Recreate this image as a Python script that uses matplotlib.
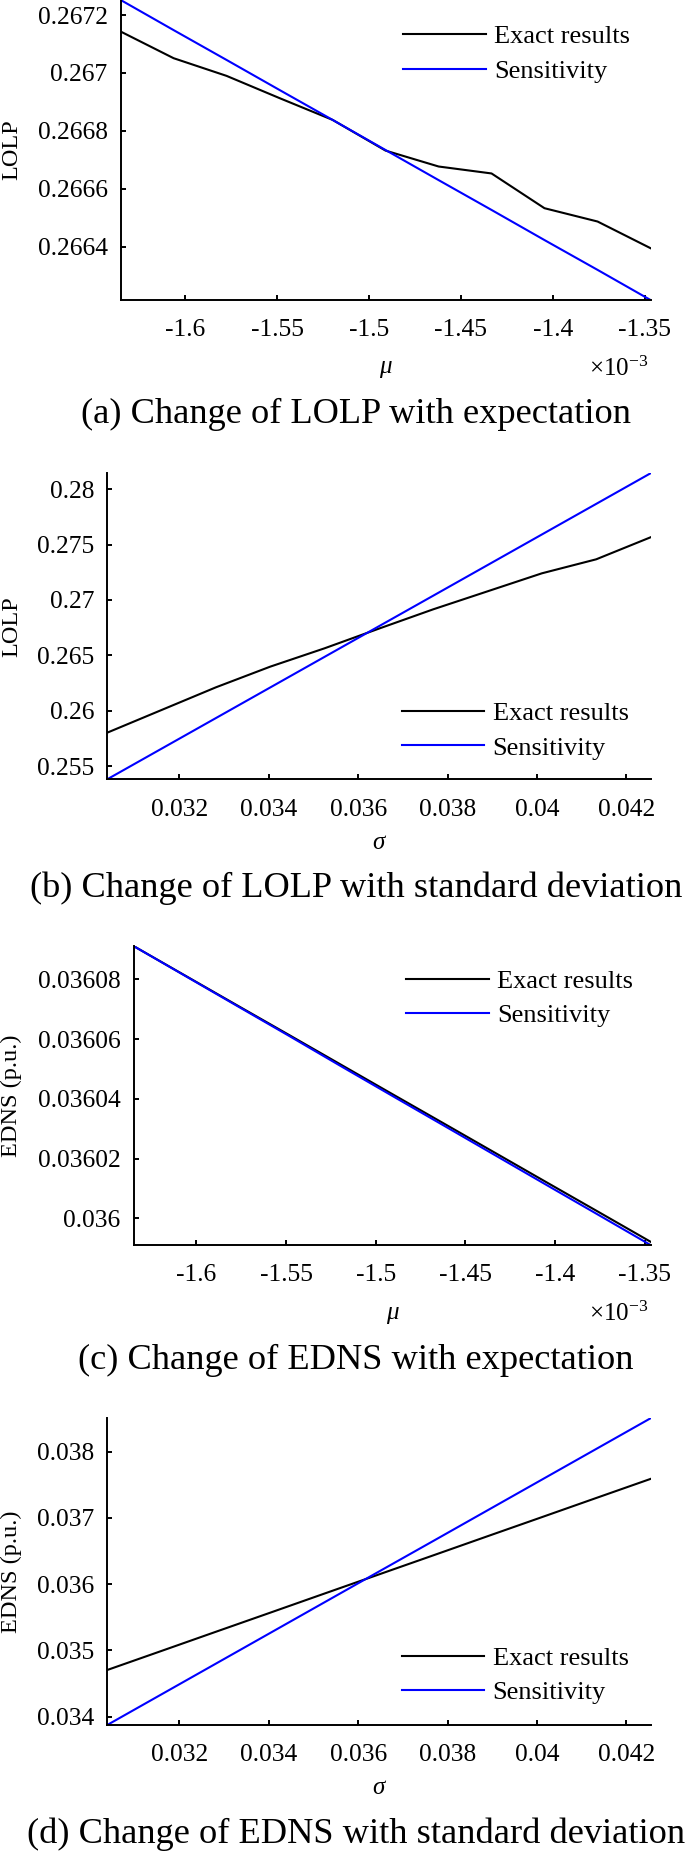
import matplotlib
matplotlib.use("Agg")
import matplotlib.pyplot as plt

plt.rcParams['font.family'] = 'Liberation Serif'
plt.rcParams['mathtext.fontset'] = 'custom'
plt.rcParams['mathtext.rm'] = 'Liberation Serif'
plt.rcParams['mathtext.it'] = 'Liberation Serif:italic'
plt.rcParams['axes.unicode_minus'] = False

# expectation mu (x 10^-3) and standard deviation sigma
mu_e3 = [-1.6351, -1.6063, -1.5775, -1.5486, -1.5198, -1.4910,
         -1.4621, -1.4333, -1.4045, -1.3756, -1.3468]
sigma = [0.030387, 0.031602, 0.032817, 0.034032, 0.035247, 0.036462,
         0.037678, 0.038893, 0.040108, 0.041323, 0.042538]

# (a) LOLP vs mu
lolp_exact_mu = [0.267143, 0.267051, 0.266990, 0.266913, 0.266838, 0.266732,
                 0.266677, 0.266653, 0.266533, 0.266487, 0.266395]
lolp_sens_mu = [0.267252, 0.267148, 0.267045, 0.266941, 0.266838, 0.266734,
                0.266630, 0.266527, 0.266423, 0.266320, 0.266216]

# (b) LOLP vs sigma
lolp_exact_sigma = [0.258012, 0.260060, 0.262108, 0.263976, 0.265633, 0.267410,
                    0.269157, 0.270783, 0.272410, 0.273675, 0.275663]
lolp_sens_sigma = [0.253800, 0.256565, 0.259329, 0.262094, 0.264859, 0.267624,
                   0.270388, 0.273153, 0.275918, 0.278682, 0.281447]

# (c) EDNS vs mu
edns_exact_mu = [0.0360912, 0.0360813, 0.0360714, 0.0360615, 0.0360516, 0.0360417,
                 0.0360318, 0.0360219, 0.0360120, 0.0360021, 0.0359922]
edns_sens_mu = [0.0360912, 0.0360812, 0.0360712, 0.0360612, 0.0360511, 0.0360411,
                0.0360311, 0.0360211, 0.0360111, 0.0360011, 0.0359911]

# (d) EDNS vs sigma
edns_exact_sigma = [0.034704, 0.034992, 0.035281, 0.035569, 0.035858, 0.036146,
                    0.036434, 0.036723, 0.037011, 0.037300, 0.037588]
edns_sens_sigma = [0.033874, 0.034337, 0.034800, 0.035263, 0.035726, 0.036189,
                   0.036651, 0.037114, 0.037577, 0.038040, 0.038503]

mu_ticks = [-1.6, -1.55, -1.5, -1.45, -1.4, -1.35]
sigma_ticks = [0.032, 0.034, 0.036, 0.038, 0.04, 0.042]
lolp_mu_ticks = [0.2664, 0.2666, 0.2668, 0.267, 0.2672]
lolp_sigma_ticks = [0.255, 0.26, 0.265, 0.27, 0.275, 0.28]
edns_mu_ticks = [0.036, 0.03602, 0.03604, 0.03606, 0.03608]
edns_sigma_ticks = [0.034, 0.035, 0.036, 0.037, 0.038]

titles = ['(a) Change of LOLP with expectation',
          '(b) Change of LOLP with standard deviation',
          '(c) Change of EDNS with expectation',
          '(d) Change of EDNS with standard deviation']

W, H = 685.0, 1851.0
fig = plt.figure(figsize=(W / 100, H / 100), dpi=100)


def make_axes(left, right, top, bottom):
    return fig.add_axes([left / W, 1 - bottom / H, (right - left) / W, (bottom - top) / H])


def panel(ax, x, exact, sens, xticks, yticks, xlabel, ylabel, ylab_x, leg_xy, xlab_y, offset=False):
    ax.plot(x, exact, color='black', lw=1.5, label='Exact results')
    ax.plot(x, sens, color='#0000ff', lw=1.5, label='Sensitivity')
    ax.set_xlim(min(x), max(x))
    ax.set_ylim(min(min(exact), min(sens)), max(max(exact), max(sens)))
    ax.set_xticks(xticks)
    ax.set_xticklabels(['%g' % v for v in xticks])
    ax.set_yticks(yticks)
    ax.set_yticklabels(['%g' % v for v in yticks])
    for s in ['top', 'right']:
        ax.spines[s].set_visible(False)
    for s in ['left', 'bottom']:
        ax.spines[s].set_linewidth(1.4)
    ax.tick_params(direction='in', length=3.6, width=1.4, labelsize=18.4)
    ax.tick_params(axis='x', pad=14)
    ax.tick_params(axis='y', pad=9.4)
    ax.set_xlabel(xlabel, fontsize=18, style='italic', va='center')
    ax.xaxis.set_label_coords(0.5, xlab_y)
    ax.set_ylabel(ylabel, fontsize=17.5, va='center')
    ax.yaxis.set_label_coords(ylab_x, 0.5)
    ax.legend(loc='upper left', bbox_to_anchor=leg_xy, frameon=False, fontsize=19,
              borderpad=0, borderaxespad=0, handlelength=3.14, handletextpad=0.31,
              labelspacing=0.42)
    if offset:
        ax.text(0.996, xlab_y - 0.005, r'$\times\mathregular{10^{-3}}$', transform=ax.transAxes,
                ha='right', va='center', fontsize=18)


ax_a = make_axes(120.7, 650.5, 0, 300)
panel(ax_a, mu_e3, lolp_exact_mu, lolp_sens_mu, mu_ticks, lolp_mu_ticks,
      'μ', 'LOLP', -0.2054, (0.533, 0.917), -0.223, offset=True)

ax_b = make_axes(107.2, 650.5, 473.3, 779.3)
panel(ax_b, sigma, lolp_exact_sigma, lolp_sens_sigma, sigma_ticks, lolp_sigma_ticks,
      'σ', 'LOLP', -0.175, (0.5417, 0.254), -0.209)

ax_c = make_axes(133.5, 650.5, 946, 1245)
panel(ax_c, mu_e3, edns_exact_mu, edns_sens_mu, mu_ticks, edns_mu_ticks,
      'μ', 'EDNS (p.u.)', -0.2367, (0.5266, 0.922), -0.226, offset=True)

ax_d = make_axes(107.2, 650.5, 1418.3, 1725)
panel(ax_d, sigma, edns_exact_sigma, edns_sens_sigma, sigma_ticks, edns_sigma_ticks,
      'σ', 'EDNS (p.u.)', -0.177, (0.5417, 0.2567), -0.206)

# subfigure captions (baseline positions in pixels)
for t, yb in zip(titles, [423, 896.7, 1369, 1843]):
    fig.text(356 / W, 1 - yb / H, t, ha='center', va='baseline', fontsize=26.2)

fig.savefig('out.png', dpi=100)
